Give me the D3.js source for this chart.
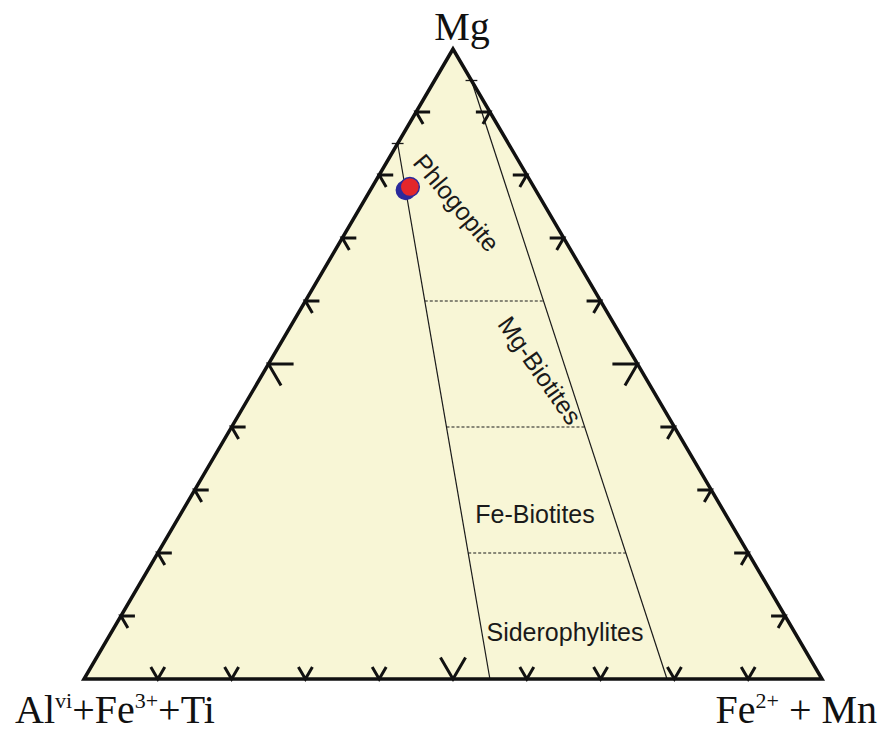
<!DOCTYPE html>
<html>
<head>
<meta charset="utf-8">
<script src="https://cdn.jsdelivr.net/npm/d3@7"></script>
<style>
  html, body { margin: 0; padding: 0; background: #ffffff; }
  svg { display: block; }
</style>
</head>
<body>
<svg id="chart" width="888" height="734"></svg>
<script>
// Ternary biotite classification: Mg – (AlVI+Fe3++Ti) – (Fe2++Mn)
// Every composition is written as [Mg, AlFeTi, FeMn] fractions summing to 1.

const gridTicks = [0.1, 0.2, 0.3, 0.4, 0.5, 0.6, 0.7, 0.8, 0.9];
const majorTick = 0.5;

// Field boundaries running from an edge down to the base
const boundaryLines = [
  { from: [0.85, 0.15, 0.00], to: [0.00, 0.45, 0.55] },
  { from: [0.95, 0.00, 0.05], to: [0.00, 0.21, 0.79] }
];

// Mg levels of the dotted dividers between the two boundaries
const dividerLevels = [0.6, 0.4, 0.2];

// Field names with their anchor compositions
const fieldNames   = ["Phlogopite", "Mg-Biotites", "Fe-Biotites", "Siderophylites"];
const fieldAnchors = [[0.756, 0.117, 0.127], [0.490, 0.137, 0.373], [0.262, 0.0, 0.0], [0.075, 0.0, 0.0]];

// Analysed micas
const sampleNames  = ["mica-1", "mica-2"];
const sampleValues = [[0.776, 0.176, 0.048], [0.781, 0.168, 0.051]];
const sampleColors = ["#2b2a9c", "#e3262b"];

const svg = d3.select("#chart");

// Affine ternary projection through two linear scales
const xScale = d3.scaleLinear().domain([0, 1]).range([84, 822]);
const yScale = d3.scaleLinear().domain([0, 1]).range([679, 49]);
const project = c => [xScale(c[2] + c[0] / 2), yScale(c[0])];
const add = (a, b, k) => a.map((v, i) => v + k * b[i]);
const lerp = (a, b, t) => a.map((v, i) => v + t * (b[i] - v));

const corners = [[1, 0, 0], [0, 1, 0], [0, 0, 1]];

// Triangle body
svg.append("polygon")
  .attr("points", corners.map(project).map(p => p.join(",")).join(" "))
  .attr("fill", "#f8f6d6")
  .attr("stroke", "none");

// Inner boundaries
const line = d3.line();
const gInner = svg.append("g").attr("stroke", "#1a1a1a").attr("fill", "none");
boundaryLines.forEach(b => {
  gInner.append("path")
    .attr("d", line([project(b.from), project(b.to)]))
    .attr("stroke-width", 1.2);
});

// small cross-marks where the boundaries leave the edges
boundaryLines.forEach(b => {
  const dir = b.from[2] === 0 ? [0, -1, 1] : [0, 1, -1];
  gInner.append("path")
    .attr("d", line([project(add(b.from, dir, -0.008)), project(add(b.from, dir, 0.008))]))
    .attr("stroke-width", 1.3);
});

// Dotted dividers at fixed Mg levels
const atMg = (b, m) => lerp(b.from, b.to, (b.from[0] - m) / (b.from[0] - b.to[0]));
dividerLevels.forEach(m => {
  gInner.append("path")
    .attr("d", line([project(atMg(boundaryLines[0], m)), project(atMg(boundaryLines[1], m))]))
    .attr("stroke-width", 1.2)
    .attr("stroke-dasharray", "3,2");
});

// Outline
svg.append("polygon")
  .attr("points", corners.map(project).map(p => p.join(",")).join(" "))
  .attr("fill", "none")
  .attr("stroke", "#111")
  .attr("stroke-width", 3.5)
  .attr("stroke-linejoin", "miter");

// Chevron ticks: two short arms pointing inward along the other two edges
const edges = [
  { at: v => [v, 1 - v, 0], arms: [[0, -1, 1], [-1, 0, 1]] },   // left edge (Fe = 0)
  { at: v => [v, 0, 1 - v], arms: [[0, 1, -1], [-1, 1, 0]] },   // right edge (AlFeTi = 0)
  { at: v => [0, 1 - v, v], arms: [[1, 0, -1], [1, -1, 0]] }    // base (Mg = 0)
];
const gTicks = svg.append("g").attr("stroke", "#111").attr("stroke-width", 3).attr("fill", "none");
edges.forEach(e => {
  gridTicks.forEach(v => {
    const p = e.at(v);
    const len = Math.abs(v - majorTick) < 1e-9 ? 0.034 : 0.019;
    gTicks.append("path")
      .attr("d", line([project(add(p, e.arms[0], len)), project(p), project(add(p, e.arms[1], len))]))
      .attr("stroke-linejoin", "miter");
  });
});

// Field names
const fieldFont = "'Liberation Sans', Arial, sans-serif";
const fieldRot = [50, 55, 0, 0];
const fieldX = [null, null, 535, 565];
fieldNames.forEach((name, i) => {
  let p = project(fieldAnchors[i]);
  if (fieldX[i] !== null) p = [fieldX[i], p[1]];
  svg.append("text")
    .attr("transform", `translate(${p[0]},${p[1]}) rotate(${fieldRot[i]})`)
    .attr("text-anchor", "middle")
    .attr("dominant-baseline", "central")
    .attr("font-family", fieldFont)
    .attr("font-size", 25)
    .attr("fill", "#1a1a1a")
    .text(name);
});

// Samples
sampleValues.forEach((c, i) => {
  const p = project(c);
  svg.append("circle")
    .attr("class", sampleNames[i])
    .attr("cx", p[0]).attr("cy", p[1])
    .attr("r", i === 0 ? 9.5 : 9.5)
    .attr("fill", sampleColors[i])
    .attr("stroke", "#2b2a9c")
    .attr("stroke-width", 1.4);
});

// Corner labels
const serif = "'Liberation Serif', 'Times New Roman', serif";
const apex = project(corners[0]);
svg.append("text")
  .attr("x", apex[0] + 9).attr("y", 40)
  .attr("text-anchor", "middle")
  .attr("font-family", serif).attr("font-size", 40).attr("fill", "#111")
  .text("Mg");

function labelWithSup(parts, x, anchor) {
  const t = svg.append("text")
    .attr("x", x).attr("y", 723)
    .attr("text-anchor", anchor)
    .attr("font-family", serif).attr("font-size", 40).attr("fill", "#111");
  let raised = false;
  parts.forEach(([s, sup]) => {
    const ts = t.append("tspan").text(s);
    if (sup && !raised) { ts.attr("dy", -15).attr("font-size", 22); raised = true; }
    else if (sup) { ts.attr("font-size", 22); }
    else if (raised) { ts.attr("dy", 15); raised = false; }
  });
}
labelWithSup([["Al"], ["vi", true], ["+Fe"], ["3+", true], ["+Ti"]], 15, "start");
labelWithSup([["Fe"], ["2+", true], [" + Mn"]], 877, "end");
</script>
</body>
</html>
